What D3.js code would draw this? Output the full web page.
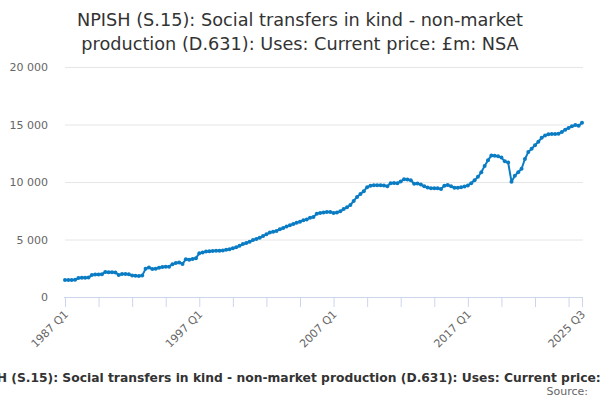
<!DOCTYPE html>
<html>
<head>
<meta charset="utf-8">
<script src="https://cdn.jsdelivr.net/npm/d3@7"></script>
<style>
  body { margin: 0; background: #fff; }
  svg { font-family: "DejaVu Sans", sans-serif; }
</style>
</head>
<body>
<svg id="chart" width="600" height="400"></svg>
<script>
// quarterly values, 1987 Q1 .. 2025 Q3, £m
let values = [
  1480, 1470, 1480, 1500,   1650, 1680, 1670, 1690,   1920, 1950, 1960, 1970,
  2180, 2150, 2160, 2140,   1920, 1990, 2000, 1980,   1880, 1850, 1830, 1860,
  2450, 2560, 2430, 2450,   2550, 2600, 2620, 2640,   2850, 2950, 3000, 2880,
  3280, 3250, 3300, 3380,   3800, 3880, 3950, 3980,   4000, 4020, 4030, 4050,
  4100, 4150, 4250, 4330,   4450, 4600, 4700, 4800,   4950, 5050, 5150, 5300,
  5450, 5600, 5680, 5750,   5900, 6000, 6120, 6250,   6350, 6450, 6550, 6680,
  6750, 6900, 6950, 7250,   7300, 7350, 7400, 7400,   7300, 7350, 7450, 7650,
  7800, 8000, 8350, 8700,   8950, 9200, 9550, 9680,   9710, 9720, 9710, 9700,
  9620, 9900, 9920, 9900,   10050, 10230, 10220, 10150, 9850, 9880, 9780, 9620,
  9520, 9460, 9450, 9450,   9400, 9680, 9740, 9620,   9500, 9500, 9540, 9600,
  9700, 9900, 10150, 10450, 10850, 11400, 11900, 12300, 12280, 12250, 12120, 11800,
  11700, 10030, 10550, 10850, 11150, 12000, 12600, 12900, 13200, 13500, 13850, 14050,
  14150, 14180, 14180, 14200, 14350, 14550, 14700, 14850, 14950, 14900, 15150
]
let startYear = 1987
let quarters = values.map((d, i) => `${startYear + Math.floor(i / 4)} Q${i % 4 + 1}`)
let yTicks = [0, 5000, 10000, 15000, 20000]
let tickEvery = 10
let labelEvery = 40

let title = ["NPISH (S.15): Social transfers in kind - non-market",
             "production (D.631): Uses: Current price: £m: NSA"]
let caption = "NPISH (S.15): Social transfers in kind - non-market production (D.631): Uses: Current price: £m: NSA"
let source = "Source:"

let svg = d3.select("#chart")
let plotLeft = 65, plotRight = 582, plotTop = 67, plotBottom = 297
let lineColor = "#0a7cc4"

let xScale = d3.scalePoint().domain(quarters).range([plotLeft, plotRight])
let yScale = d3.scaleLinear().domain([0, 20000]).range([plotBottom, plotTop])

let fmt = v => d3.format(",")(v).replace(/,/g, " ")

// grid
svg.append("g").selectAll("line")
    .data(yTicks.filter(d => d > 0))
    .enter().append("line")
    .attr("x1", plotLeft).attr("x2", plotRight + 1)
    .attr("y1", d => yScale(d) + 0.5).attr("y2", d => yScale(d) + 0.5)
    .attr("stroke", "#e6e6e6").attr("stroke-width", 1)

// y labels
svg.append("g").selectAll("text")
    .data(yTicks)
    .enter().append("text")
    .attr("x", 48).attr("y", d => yScale(d) + 4)
    .attr("text-anchor", "end")
    .style("font-size", "11px").style("fill", "#666")
    .text(fmt)

// x axis
let tickCats = quarters.filter((d, i) => i % tickEvery === 0 || i === quarters.length - 1)
let labelCats = quarters.filter((d, i) => i % labelEvery === 0 || i === quarters.length - 1)
let xAxis = d3.axisBottom(xScale).tickValues(tickCats).tickSize(10).tickFormat("")
let xg = svg.append("g").attr("transform", `translate(0,${plotBottom})`).call(xAxis)
xg.select(".domain").attr("stroke", "#ccd6eb").attr("d", `M${plotLeft - 1},0.5H${plotRight + 1}`)
xg.selectAll(".tick line").attr("stroke", "#ccd6eb")

svg.append("g").selectAll("text")
    .data(labelCats)
    .enter().append("text")
    .attr("transform", d => `translate(${xScale(d) + 4},${plotBottom + 18}) rotate(-45)`)
    .attr("text-anchor", "end")
    .style("font-size", "11px").style("fill", "#666")
    .text(d => d)

// series
let line = d3.line()
    .x((d, i) => xScale(quarters[i]))
    .y(d => yScale(d))
svg.append("path")
    .datum(values)
    .attr("d", line)
    .attr("fill", "none")
    .attr("stroke", lineColor)
    .attr("stroke-width", 2)
    .attr("stroke-linejoin", "round")
svg.append("g").selectAll("circle")
    .data(values)
    .enter().append("circle")
    .attr("cx", (d, i) => xScale(quarters[i]))
    .attr("cy", d => yScale(d))
    .attr("r", 2)
    .attr("fill", lineColor)

// title
svg.append("g").selectAll("text")
    .data(title)
    .enter().append("text")
    .attr("x", 300).attr("y", (d, i) => 26 + i * 24)
    .attr("text-anchor", "middle")
    .style("font-size", "17.7px").style("fill", "#333")
    .text(d => d)

// caption: runs past both edges, "(S.15)" starts near x=7 and "price:" ends near x=597
let cap = svg.append("text")
    .attr("y", 382)
    .style("font-size", "12px").style("font-weight", "bold").style("fill", "#333")
    .text("(S.15): Social transfers in kind - non-market production (D.631): Uses: Current price:")
let capSize = 12 * 590 / cap.node().getComputedTextLength()
cap.style("font-size", capSize + "px").text("NPISH ")
let lead = cap.node().getComputedTextLength()
cap.attr("x", 7 - lead).text(caption)

svg.append("text")
    .attr("x", 588).attr("y", 395)
    .attr("text-anchor", "end")
    .style("font-size", "11px").style("fill", "#666")
    .text(source)
</script>
</body>
</html>
